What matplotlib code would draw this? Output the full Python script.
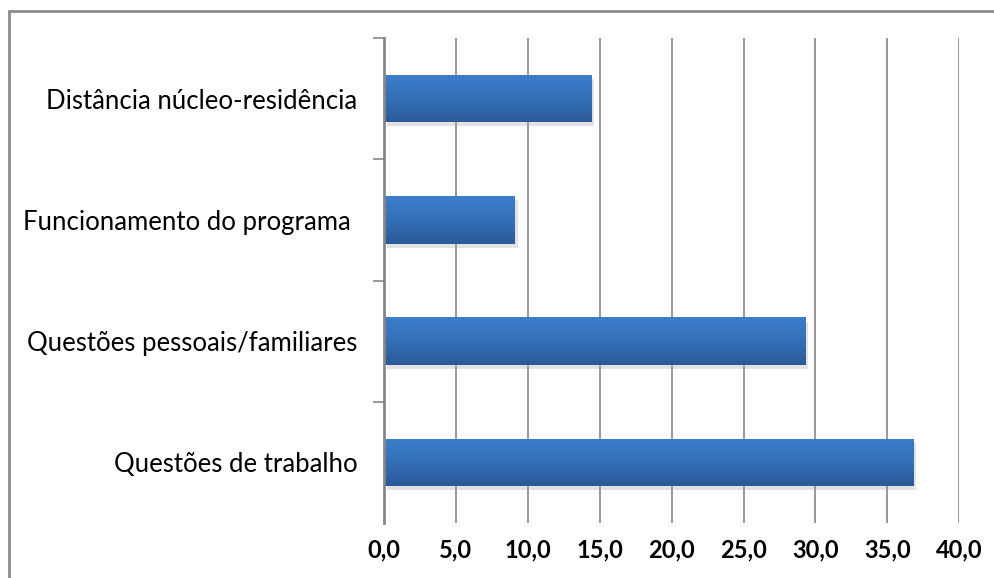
import numpy as np
import matplotlib
matplotlib.use("Agg")
import matplotlib.pyplot as plt
import matplotlib.patheffects as pe
from matplotlib.patches import Rectangle

# data, top to bottom as in the chart
categories = ["Distância núcleo-residência", "Funcionamento do programa ",
              "Questões pessoais/familiares", "Questões de trabalho"]
values = [14.4, 9.1, 29.3, 36.8]
xticks = [0, 5, 10, 15, 20, 25, 30, 35, 40]
xtick_labels = ["0,0", "5,0", "10,0", "15,0", "20,0", "25,0", "30,0", "35,0", "40,0"]

plt.rcParams['font.family'] = ['Lato', 'DejaVu Sans']

fig = plt.figure(figsize=(9.95, 5.78), dpi=100)
ax = fig.add_axes([384 / 995, 1 - 523 / 578, (959.3 - 384) / 995, (523 - 38) / 578])

ypos = np.arange(len(categories))[::-1]
bars = ax.barh(ypos, values, height=0.39, color="#3470B8", zorder=3,
               path_effects=[pe.SimplePatchShadow(offset=(2, -3), shadow_rgbFace="#a0a0a0", alpha=0.3),
                             pe.Normal()])

# vertical gradient on each bar
grad = np.linspace(0, 1, 64).reshape(-1, 1)
cmap = matplotlib.colors.LinearSegmentedColormap.from_list("g", ["#2B5A98", "#3470B8", "#3C7DCC"])
for b in bars:
    x0, y0 = b.get_x(), b.get_y()
    im = ax.imshow(grad, extent=[x0, x0 + b.get_width(), y0, y0 + b.get_height()],
                   origin="lower", aspect="auto", cmap=cmap, zorder=4)
    im.set_clip_path(b)

ax.set_xlim(0, 40)
ax.set_ylim(-0.5, len(categories) - 0.5)
ax.set_xticks(xticks)
ax.set_xticklabels(xtick_labels, fontsize=17, fontweight="bold")
ax.set_yticks(ypos)
ax.set_yticklabels(categories, fontsize=18.5)
ax.set_yticks(np.arange(1, len(categories) + 1) - 0.5, minor=True)
ax.tick_params(axis="y", which="major", length=0, pad=19)
ax.tick_params(axis="y", which="minor", length=8, width=1.2, color="#868686")
ax.tick_params(axis="x", length=0, pad=11)

ax.grid(axis="x", color="#868686", linewidth=1.2, zorder=0)
for s in ["top", "right", "bottom"]:
    ax.spines[s].set_visible(False)
ax.spines["left"].set_color("#868686")
ax.spines["left"].set_linewidth(2)
ax.spines["left"].set_zorder(5)

# outer chart border (cut off at right/bottom like the original)
fig.patches.append(Rectangle((9 / 995, -0.1), 1.2, 1.1 - 11 / 578, transform=fig.transFigure,
                             fill=False, edgecolor="#8c8c8c", linewidth=2))

fig.savefig("out.png", dpi=100)
